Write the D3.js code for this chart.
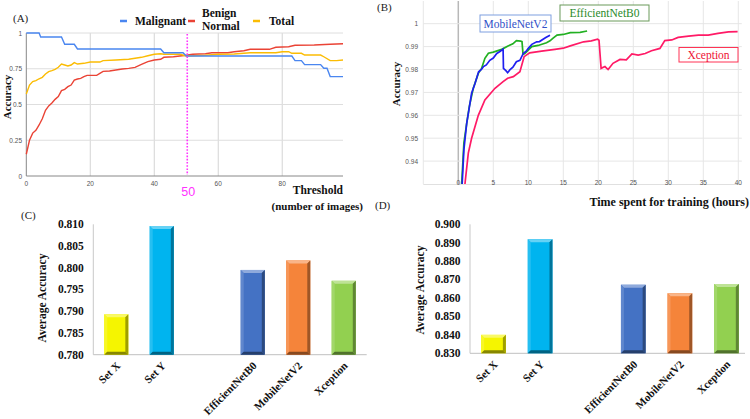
<!DOCTYPE html>
<html><head><meta charset="utf-8">
<script src="https://cdn.jsdelivr.net/npm/d3@7"></script>
<style>body{margin:0;background:#fff}svg{display:block}</style>
</head><body>
<svg id="c" width="750" height="419"></svg>
<script>
// ---------- Panel A data ----------
const thrMal = [0,4,4.5,11,12,15,16,42,43,49,50,83,84,86,87,92,93,94,95,99];
const accMal = [1,1,0.972,0.972,0.921,0.921,0.888,0.888,0.862,0.862,0.839,0.839,0.807,0.807,0.779,0.779,0.753,0.753,0.695,0.695];
const thrBen = [0,1,2,3,4,5,6,7,8,9,10,11,12,13,14,15,16,17,18,19,22,23,24,26,28,30,32,34,36,38,40,42,43,46,48,50,52,56,58,63,65,68,70,76,78,82,84,90,95,99];
const accBen = [0.152,0.25,0.30,0.32,0.357,0.40,0.46,0.49,0.51,0.536,0.555,0.597,0.606,0.625,0.636,0.671,0.678,0.683,0.695,0.704,0.704,0.718,0.732,0.734,0.741,0.748,0.753,0.76,0.78,0.80,0.811,0.816,0.83,0.834,0.839,0.844,0.851,0.855,0.862,0.862,0.869,0.876,0.886,0.886,0.90,0.904,0.914,0.916,0.921,0.925];
const thrTot = [0,1,2,3,4,5,6,7,8,9,10,11,12,13,14,15,16,18,20,23,24,28,32,34,36,38,40,42,43,48,50,56,60,65,70,78,80,82,83,86,87,92,93,95,97,99];
const accTot = [0.573,0.636,0.66,0.667,0.68,0.69,0.713,0.73,0.737,0.746,0.76,0.783,0.776,0.769,0.776,0.793,0.783,0.788,0.797,0.797,0.807,0.811,0.816,0.823,0.83,0.841,0.851,0.855,0.851,0.851,0.839,0.844,0.851,0.853,0.862,0.862,0.869,0.869,0.858,0.858,0.846,0.846,0.834,0.807,0.807,0.811];
const thresholdMark = 50;
const aXTicks = [0,20,40,60,80];
const aYTicks = [0,0.25,0.5,0.75,1];

// ---------- Panel B data ----------
const mobT = [0.55,0.8,1.2,1.5,1.9,2.4,2.9,3.3,3.6,4.0,4.5,5.0,5.5,6.0,6.4,6.45,6.8,7.05,7.4,7.8,8.3,8.8,9.3,9.7,10.0,10.5,11.2,11.6,12.0,12.5,13.1];
const mobA = [0.930,0.945,0.9565,0.962,0.9696,0.974,0.979,0.980,0.9813,0.982,0.984,0.985,0.987,0.988,0.9889,0.9805,0.9795,0.9786,0.980,0.981,0.9834,0.984,0.9871,0.988,0.9893,0.991,0.9921,0.9922,0.993,0.994,0.995];
const effT = [0.48,0.8,1.2,1.57,2.14,2.86,3.33,3.8,4.3,5.0,6.2,7.1,7.8,8.3,8.9,9.1,9.25,9.5,10.5,11.4,12.6,13.1,13.5,14.1,15,16,17.4,18.4];
const effA = [0.930,0.948,0.9565,0.9638,0.9718,0.9783,0.9805,0.9849,0.9871,0.9876,0.9888,0.9903,0.9912,0.9926,0.9924,0.9922,0.9866,0.987,0.990,0.9905,0.9917,0.9925,0.9936,0.995,0.9953,0.9961,0.9962,0.9968];
const xcpT = [0.95,1.43,1.9,2.86,3.8,5.24,6.4,7.05,7.86,8.8,9.4,10.2,11.9,13.8,15,16,17.9,19.0,19.9,20.1,20.4,20.95,21.4,22.1,23.1,24,24.8,25.7,26.7,27.6,28.8,29.5,30.5,31.4,32.9,34.3,35.7,37.1,38.6,39.9];
const xcpA = [0.930,0.9435,0.95,0.960,0.9667,0.9718,0.9747,0.9762,0.9769,0.979,0.9856,0.9873,0.988,0.9888,0.9893,0.9903,0.9921,0.9925,0.9932,0.9928,0.9805,0.9813,0.980,0.9827,0.9844,0.9842,0.9868,0.9863,0.987,0.9882,0.9892,0.9926,0.9929,0.994,0.9946,0.995,0.995,0.9958,0.9964,0.9965];
const bXTicks = [0,5,10,15,20,25,30,35,40];
const bYTicks = [0.94,0.95,0.96,0.97,0.98,0.99,1];

// ---------- Panels C / D data ----------
const barCats = ["Set X","Set Y","","EfficientNetB0","MobileNetV2","Xception"];
const barColors = ["#f5f500","#00b4ef",null,"#4472c4","#f5843a","#92d050"];
const valsC = [0.7893,0.8096,null,0.7995,0.8017,0.797];
const valsD = [0.840,0.8919,null,0.8672,0.8626,0.8676];
const cTicks = [0.780,0.785,0.790,0.795,0.800,0.805,0.810];
const dTicks = [0.830,0.840,0.850,0.860,0.870,0.880,0.890,0.900];

const svg = d3.select("#c");
const serif = "'Liberation Serif','Times New Roman',serif";
const sans = "'Liberation Sans',Arial,sans-serif";

// ================= Panel A =================
{
  const g = svg.append("g");
  const x = d3.scaleLinear().domain([0,99]).range([26.3,343]);
  const y = d3.scaleLinear().domain([0,1]).range([176,33]);
  g.selectAll(".gx").data(aXTicks.filter(d=>d>0)).join("line")
    .attr("x1",d=>x(d)).attr("x2",d=>x(d)).attr("y1",33).attr("y2",176)
    .attr("stroke","#d4d4d4").attr("stroke-width",1);
  g.selectAll(".gy").data(aYTicks.filter(d=>d>0)).join("line")
    .attr("x1",26.3).attr("x2",343).attr("y1",d=>y(d)).attr("y2",d=>y(d))
    .attr("stroke","#dedede").attr("stroke-width",1);
  g.append("line").attr("x1",26.3).attr("x2",343).attr("y1",176).attr("y2",176).attr("stroke","#888");
  g.append("line").attr("x1",26.3).attr("x2",26.3).attr("y1",33).attr("y2",176).attr("stroke","#888");
  g.selectAll(".tx").data(aXTicks).join("text")
    .attr("x",d=>x(d)).attr("y",185.5).attr("text-anchor","middle")
    .attr("font-family",sans).attr("font-size",6.5).attr("fill","#555").text(d=>d);
  g.selectAll(".ty").data(aYTicks).join("text")
    .attr("x",22).attr("y",d=>y(d)+2.5).attr("text-anchor","end")
    .attr("font-family",sans).attr("font-size",6.5).attr("fill","#555").text(d=>d);
  const line = d3.line().x(d=>x(d[0])).y(d=>y(d[1]));
  const series = [[thrBen,accBen,"#ea4335"],[thrTot,accTot,"#fbbc04"],[thrMal,accMal,"#4a86f0"]];
  series.forEach(([xs,ys,c])=>{
    g.append("path").attr("d",line(xs.map((v,i)=>[v,ys[i]])))
      .attr("fill","none").attr("stroke",c).attr("stroke-width",1.4);
  });
  g.append("line").attr("x1",x(thresholdMark)+1).attr("x2",x(thresholdMark)+1).attr("y1",34).attr("y2",175)
    .attr("stroke","#ff33ff").attr("stroke-width",1.6).attr("stroke-dasharray","1.6,1.6");
  g.append("text").attr("x",x(thresholdMark)+2).attr("y",196).attr("text-anchor","middle")
    .attr("font-family",sans).attr("font-size",12.5).attr("fill","#ff33ff").text(thresholdMark);
  // legend
  g.append("line").attr("x1",120).attr("x2",127).attr("y1",21).attr("y2",21).attr("stroke","#4a86f0").attr("stroke-width",2.5);
  g.append("line").attr("x1",188).attr("x2",195).attr("y1",21).attr("y2",21).attr("stroke","#ea4335").attr("stroke-width",2.5);
  g.append("line").attr("x1",253).attr("x2",260).attr("y1",21).attr("y2",21).attr("stroke","#fbbc04").attr("stroke-width",2.5);
  const lt = (t,xx,yy)=>g.append("text").attr("x",xx).attr("y",yy).attr("font-family",serif).attr("font-weight","bold").attr("font-size",11.5).attr("fill","#111").text(t);
  lt("Malignant",135,24.5); lt("Benign",202,17); lt("Normal",202,30); lt("Total",269,24.5);
  g.append("text").attr("x",13).attr("y",22).attr("font-family",serif).attr("font-size",11).attr("fill","#222").text("(A)");
  g.append("text").attr("transform","translate(11,97) rotate(-90)").attr("text-anchor","middle")
    .attr("font-family",serif).attr("font-weight","bold").attr("font-size",11).attr("fill","#111").text("Accuracy");
  g.append("text").attr("x",343).attr("y",194).attr("text-anchor","end")
    .attr("font-family",serif).attr("font-weight","bold").attr("font-size",11.5).attr("fill","#111").text("Threshold");
  g.append("text").attr("x",363).attr("y",210).attr("text-anchor","end")
    .attr("font-family",serif).attr("font-weight","bold").attr("font-size",11).attr("fill","#111").text("(number of images)");
}

// ================= Panel B =================
{
  const g = svg.append("g");
  const x = d3.scaleLinear().domain([-5,40.5]).range([423.3,741.8]);
  const y = d3.scaleLinear().domain([0.93,1.01]).range([184,0.8]);
  g.selectAll(".gx").data(bXTicks).join("line")
    .attr("x1",d=>x(d)).attr("x2",d=>x(d)).attr("y1",1).attr("y2",184)
    .attr("stroke",d=>d===0?"#b8b8b8":"#e6e6e6").attr("stroke-width",d=>d===0?1.5:1);
  g.append("line").attr("x1",x(-5)).attr("x2",x(-5)).attr("y1",1).attr("y2",184).attr("stroke","#e6e6e6");
  g.selectAll(".gy").data(bYTicks).join("line")
    .attr("x1",x(-5)).attr("x2",741.8).attr("y1",d=>y(d)).attr("y2",d=>y(d))
    .attr("stroke","#e6e6e6").attr("stroke-width",1);
  g.append("line").attr("x1",x(-5)).attr("x2",741.8).attr("y1",184.5).attr("y2",184.5).attr("stroke","#e0e0e0");
  g.selectAll(".tx").data(bXTicks).join("text")
    .attr("x",d=>x(d)).attr("y",184.5).attr("text-anchor","middle")
    .attr("font-family",sans).attr("font-size",6.5).attr("fill","#555").text(d=>d);
  g.selectAll(".ty").data(bYTicks).join("text")
    .attr("x",418).attr("y",d=>y(d)+2.5).attr("text-anchor","end")
    .attr("font-family",sans).attr("font-size",6.5).attr("fill","#555").text(d=>d);
  const line = d3.line().x(d=>x(d[0])).y(d=>y(d[1]));
  const series = [[xcpT,xcpA,"#ff1a66"],[effT,effA,"#22b022"],[mobT,mobA,"#1f1ff0"]];
  series.forEach(([xs,ys,c])=>{
    g.append("path").attr("d",line(xs.map((v,i)=>[v,ys[i]])))
      .attr("fill","none").attr("stroke",c).attr("stroke-width",1.7);
  });
  const box = (t,x0,y0,w,h,bc,tc)=>{
    g.append("rect").attr("x",x0).attr("y",y0).attr("width",w).attr("height",h).attr("fill","#fff").attr("stroke",bc).attr("stroke-width",1);
    g.append("text").attr("x",x0+w/2).attr("y",y0+h/2+4).attr("text-anchor","middle")
      .attr("font-family",serif).attr("font-size",11.5).attr("fill",tc).text(t);
  };
  box("MobileNetV2",480,15,71,17,"#7f9fe0","#3050c8");
  box("EfficientNetB0",560,5,89,16,"#6a9a5a","#2a8a2a");
  box("Xception",679,47.5,59,14.5,"#ff3355","#ee1133");
  g.append("text").attr("x",377).attr("y",11).attr("font-family",serif).attr("font-size",11).attr("fill","#222").text("(B)");
  g.append("text").attr("transform","translate(400,84) rotate(-90)").attr("text-anchor","middle")
    .attr("font-family",serif).attr("font-weight","bold").attr("font-size",11).attr("fill","#111").text("Accuracy");
  g.append("text").attr("x",749).attr("y",206).attr("text-anchor","end")
    .attr("font-family",serif).attr("font-weight","bold").attr("font-size",12).attr("fill","#111").text("Time spent for training (hours)");
}

// ================= Bars C and D =================
function bevelBar(g,x0,y0,w,h,color){
  const b = 3;
  const light = d3.interpolateRgb(color,"#fff")(0.4);
  const lightL = d3.interpolateRgb(color,"#fff")(0.15);
  const dark = d3.interpolateRgb(color,"#000")(0.35);
  const darkB = d3.interpolateRgb(color,"#000")(0.45);
  g.append("rect").attr("x",x0).attr("y",y0).attr("width",w).attr("height",h).attr("fill",color);
  const poly = (pts,f)=>g.append("polygon").attr("points",pts.map(p=>p.join(",")).join(" ")).attr("fill",f);
  poly([[x0,y0],[x0+w,y0],[x0+w-b,y0+b],[x0+b,y0+b]],light);
  poly([[x0,y0],[x0+b,y0+b],[x0+b,y0+h-b],[x0,y0+h]],lightL);
  poly([[x0+w,y0],[x0+w,y0+h],[x0+w-b,y0+h-b],[x0+w-b,y0+b]],dark);
  poly([[x0,y0+h],[x0+w,y0+h],[x0+w-b,y0+h-b],[x0+b,y0+h-b]],darkB);
}
function barPanel(opts){
  const g = svg.append("g");
  const x = d3.scaleBand().domain(d3.range(barCats.length)).range([opts.x0,opts.x1]).paddingInner(0.47).paddingOuter(0.24);
  const y = d3.scaleLinear().domain(opts.domain).range([opts.yb,opts.yt]);
  g.append("line").attr("x1",opts.x0).attr("x2",opts.x0).attr("y1",opts.yt).attr("y2",opts.yb).attr("stroke","#c8c8c8");
  g.append("line").attr("x1",opts.x0).attr("x2",opts.axEnd).attr("y1",opts.yb).attr("y2",opts.yb).attr("stroke","#c0c0c0");
  g.selectAll(".ty").data(opts.ticks).join("text")
    .attr("x",opts.x0-9.5).attr("y",d=>y(d)+3.8).attr("text-anchor","end")
    .attr("font-family",serif).attr("font-weight","bold").attr("font-size",11.5).attr("fill","#111")
    .text(d=>d3.format(".3f")(d));
  opts.vals.forEach((v,i)=>{
    if(v==null) return;
    bevelBar(g,x(i),y(v),x.bandwidth(),opts.yb-y(v),barColors[i]);
  });
  barCats.forEach((c,i)=>{
    if(!c) return;
    const cx = x(i)+x.bandwidth()/2;
    g.append("text").attr("transform",`translate(${cx+2},${opts.yb+9}) rotate(-45)`)
      .attr("text-anchor","end").attr("dy","0.35em")
      .attr("font-family",serif).attr("font-weight","bold").attr("font-size",11).attr("fill","#111").text(c);
  });
  g.append("text").attr("transform",`translate(${opts.labX},${opts.labY}) rotate(-90)`).attr("text-anchor","middle")
    .attr("font-family",serif).attr("font-weight","bold").attr("font-size",11.5).attr("fill","#111").text("Average Accuracy");
  g.append("text").attr("x",opts.tagX).attr("y",opts.tagY).attr("font-family",serif).attr("font-size",11).attr("fill","#222").text(opts.tag);
}
barPanel({x0:93.3,x1:366.7,axEnd:366.7,yt:224.3,yb:354.7,domain:[0.780,0.810],ticks:cTicks,vals:valsC,labX:46,labY:298,tag:"(C)",tagX:21,tagY:219});
barPanel({x0:470,x1:750,axEnd:745,yt:224.3,yb:353.3,domain:[0.830,0.900],ticks:dTicks,vals:valsD,labX:424,labY:290,tag:"(D)",tagX:375,tagY:209});
</script>
</body></html>
